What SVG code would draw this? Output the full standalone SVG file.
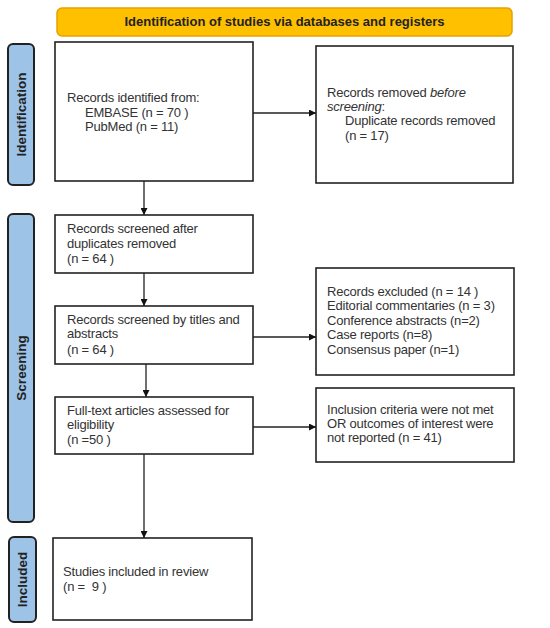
<svg xmlns="http://www.w3.org/2000/svg" width="550" height="628" viewBox="0 0 550 628">
<defs>
<style>
.box{fill:#fff;stroke:#222;stroke-width:1.6}
.lab{fill:#9DC3E6;stroke:#222;stroke-width:2}
.t{font-family:"Liberation Sans",Arial,sans-serif;font-size:13px;fill:#333;letter-spacing:-0.2px}
.lt{font-family:"Liberation Sans",Arial,sans-serif;font-size:13.5px;font-weight:bold;fill:#222;text-anchor:middle}
.con{stroke:#222;stroke-width:1.3;fill:none;marker-end:url(#ah)}
</style>
<marker id="ah" viewBox="0 0 10 10" refX="10" refY="5" markerWidth="7" markerHeight="7" markerUnits="userSpaceOnUse" orient="auto">
<path d="M0,0 L10,5 L0,10 z" fill="#111"/>
</marker>
</defs>
<rect width="550" height="628" fill="#fff"/>
<g id="banner">
<rect x="57" y="8" width="455" height="28" rx="5" fill="#FFC000" stroke="#E6A100" stroke-width="1.5"/>
<text x="284.5" y="26" class="lt" style="font-size:13px">Identification of studies via databases and registers</text>
</g>
<g id="label-identification">
<rect x="8" y="44" width="26" height="141" rx="5" class="lab"/>
<text class="lt" transform="translate(26,114.5) rotate(-90)">Identification</text>
</g>
<g id="label-screening">
<rect x="8" y="214" width="26" height="308" rx="5" class="lab"/>
<text class="lt" transform="translate(26,368) rotate(-90)">Screening</text>
</g>
<g id="label-included">
<rect x="9" y="537" width="27" height="85" rx="5" class="lab"/>
<text class="lt" transform="translate(27,579.5) rotate(-90)">Included</text>
</g>
<g id="records-identified">
<rect x="55" y="42" width="198" height="139" class="box"/>
<text class="t" x="67" y="102">Records identified from:</text>
<text class="t" x="85" y="117">EMBASE (n = 70 )</text>
<text class="t" x="85" y="131">PubMed (n = 11)</text>
</g>
<g id="records-removed">
<rect x="316" y="46" width="197" height="137" class="box"/>
<text class="t" x="327" y="97">Records removed <tspan font-style="italic">before</tspan></text>
<text class="t" x="327" y="111"><tspan font-style="italic">screening</tspan>:</text>
<text class="t" x="345" y="125">Duplicate records removed</text>
<text class="t" x="345" y="140">(n = 17)</text>
</g>
<g id="records-screened">
<rect x="55" y="215" width="198" height="58" class="box"/>
<text class="t" x="67" y="233">Records screened after</text>
<text class="t" x="67" y="248">duplicates removed</text>
<text class="t" x="67" y="263">(n = 64 )</text>
</g>
<g id="titles-abstracts">
<rect x="55" y="306" width="198" height="58" class="box"/>
<text class="t" x="67" y="324">Records screened by titles and</text>
<text class="t" x="67" y="338">abstracts</text>
<text class="t" x="67" y="354">(n = 64 )</text>
</g>
<g id="records-excluded">
<rect x="316" y="268" width="198" height="107" class="box"/>
<text class="t" x="327" y="296">Records excluded (n = 14 )</text>
<text class="t" x="327" y="310">Editorial commentaries (n = 3)</text>
<text class="t" x="327" y="325">Conference abstracts (n=2)</text>
<text class="t" x="327" y="339">Case reports (n=8)</text>
<text class="t" x="327" y="354">Consensus paper (n=1)</text>
</g>
<g id="full-text">
<rect x="55" y="397" width="198" height="57" class="box"/>
<text class="t" x="67" y="415">Full-text articles assessed for</text>
<text class="t" x="67" y="429">eligibility</text>
<text class="t" x="67" y="444">(n =50 )</text>
</g>
<g id="inclusion-not-met">
<rect x="316" y="388" width="198" height="74" class="box"/>
<text class="t" x="327" y="414">Inclusion criteria were not met</text>
<text class="t" x="327" y="428">OR outcomes of interest were</text>
<text class="t" x="327" y="442">not reported (n = 41)</text>
</g>
<g id="studies-included">
<rect x="53" y="538" width="199" height="82" class="box"/>
<text class="t" x="63" y="576">Studies included in review</text>
<text class="t" x="63" y="591" xml:space="preserve">(n =  9 )</text>
</g>
<g id="connectors">
<path class="con" d="M144,181 V215"/>
<path class="con" d="M144,273 V306"/>
<path class="con" d="M146,364 V397"/>
<path class="con" d="M144,454 V538"/>
<path class="con" d="M253,113 H316"/>
<path class="con" d="M253,337 H316"/>
<path class="con" d="M253,427 H316"/>
</g>
</svg>
